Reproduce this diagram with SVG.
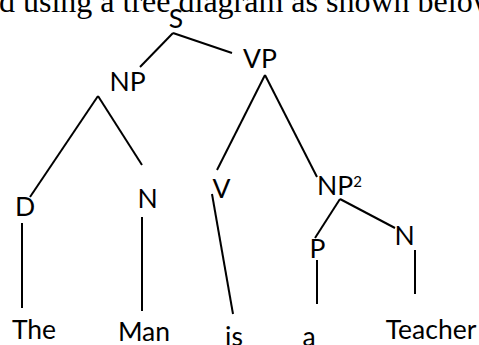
<svg xmlns="http://www.w3.org/2000/svg" width="479" height="345" viewBox="0 0 479 345">
<style>
.lbl{font-family:Lato,"Noto Sans","Liberation Sans",sans-serif;font-size:26.5px;fill:#000;text-anchor:middle}
.cap{font-family:"Liberation Serif","Times New Roman",serif;font-size:32px;fill:#000}
.edge{stroke:#000;stroke-width:2;fill:none;stroke-linecap:butt}
</style>
<rect width="479" height="345" fill="#fff"/>
<text class="cap" x="-1" y="12">d using a tree diagram as shown below</text>
<g id="connectors">
<line class="edge" x1="173" y1="33" x2="140" y2="67"/>
<line class="edge" x1="173" y1="33" x2="232" y2="53"/>
<line class="edge" x1="98" y1="96" x2="30" y2="197"/>
<line class="edge" x1="98" y1="96" x2="142" y2="165"/>
<line class="edge" x1="22" y1="223" x2="22" y2="308"/>
<line class="edge" x1="142" y1="217" x2="142" y2="311"/>
<line class="edge" x1="265" y1="75" x2="217" y2="170"/>
<line class="edge" x1="265" y1="75" x2="317" y2="177"/>
<line class="edge" x1="212" y1="194" x2="233" y2="314"/>
<line class="edge" x1="340" y1="199" x2="315" y2="238"/>
<line class="edge" x1="340" y1="199" x2="395" y2="228"/>
<line class="edge" x1="317" y1="260" x2="317" y2="304"/>
<line class="edge" x1="415" y1="250" x2="415" y2="294"/>
</g>
<g id="S"><text class="lbl" x="176" y="28">S</text></g>
<g id="NP"><text class="lbl" x="127.5" y="91">NP</text></g>
<g id="VP"><text class="lbl" x="260" y="68">VP</text></g>
<g id="D"><text class="lbl" x="25" y="216">D</text></g>
<g id="N1"><text class="lbl" x="147.5" y="208">N</text></g>
<g id="V"><text class="lbl" x="221.5" y="198">V</text></g>
<g id="NP2"><text class="lbl" x="317" y="195" style="text-anchor:start">NP<tspan font-size="15" dy="-8">2</tspan></text></g>
<g id="P"><text class="lbl" x="317.5" y="258">P</text></g>
<g id="N2"><text class="lbl" x="404.5" y="245">N</text></g>
<g id="The"><text class="lbl" x="34" y="339">The</text></g>
<g id="Man"><text class="lbl" x="144" y="341">Man</text></g>
<g id="is"><text class="lbl" x="234" y="346">is</text></g>
<g id="a"><text class="lbl" x="309" y="346">a</text></g>
<g id="Teacher"><text class="lbl" x="431" y="339">Teacher</text></g>
</svg>
